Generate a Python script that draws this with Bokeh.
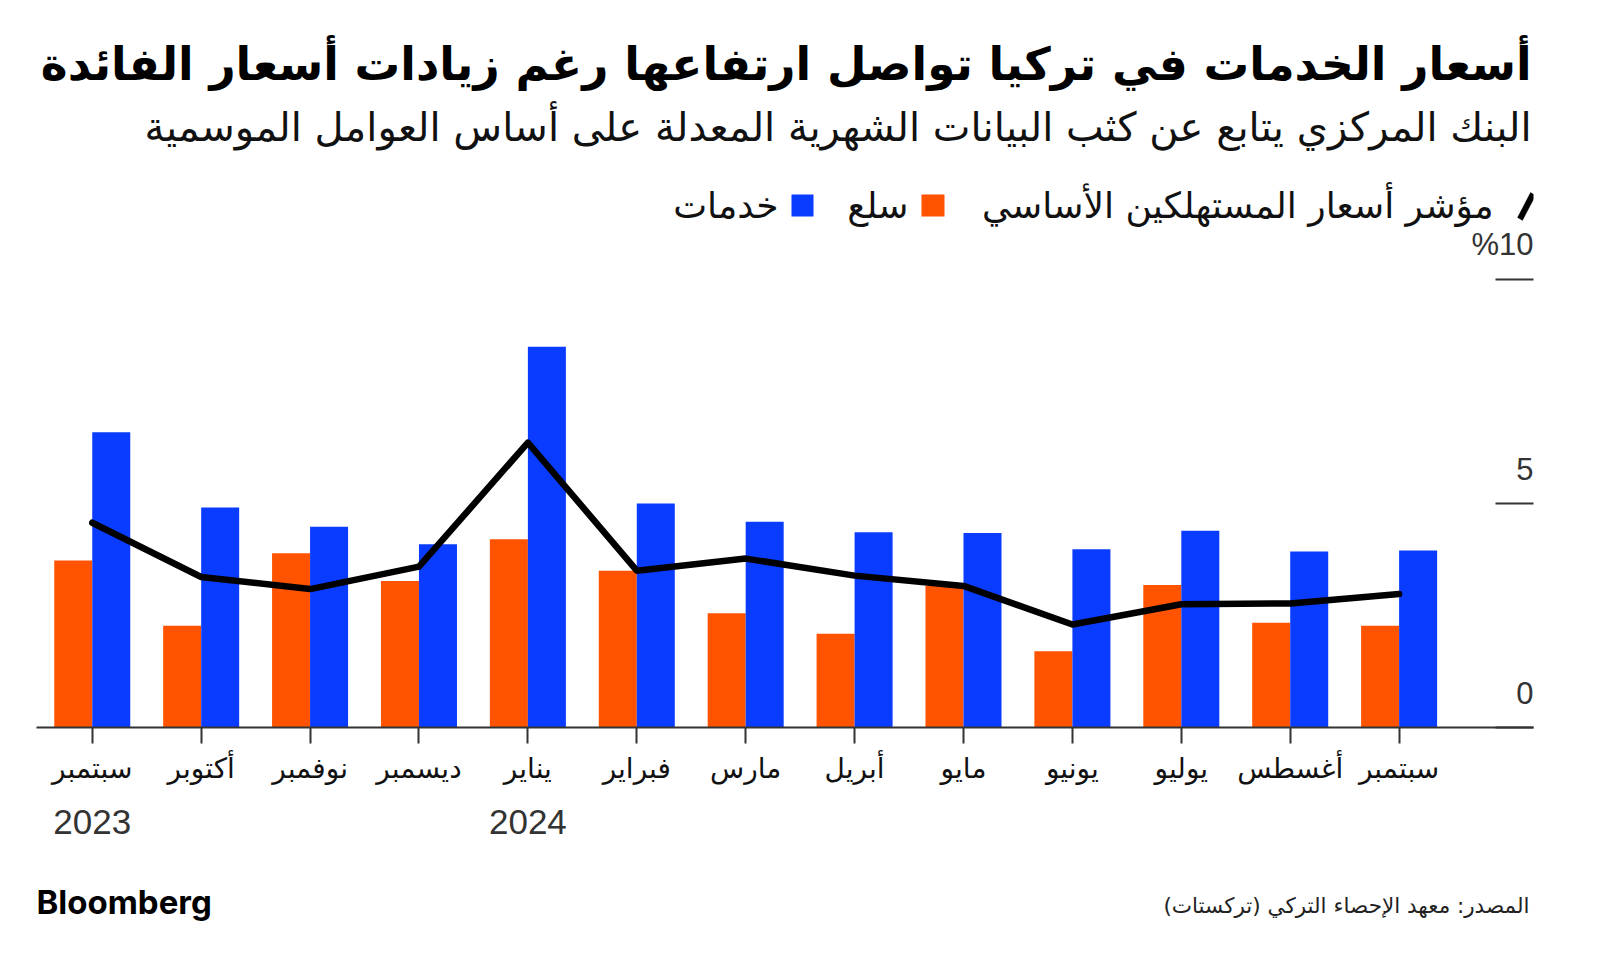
from bokeh.plotting import figure
from bokeh.layouts import column
from bokeh.models import Range1d, FixedTicker, Label, BoxAnnotation, PolyAnnotation, ColumnDataSource
from bokeh.transform import dodge
from bokeh.embed import file_html
from bokeh.resources import INLINE

# ---- data ----
months = ["سبتمبر", "أكتوبر", "نوفمبر", "ديسمبر", "يناير", "فبراير", "مارس",
          "أبريل", "مايو", "يونيو", "يوليو", "أغسطس", "سبتمبر"]
year_pos = [0, 4]
year_labels = ["2023", "2024"]
goods = [3.73, 2.27, 3.89, 3.27, 4.20, 3.50, 2.55, 2.09, 3.16, 1.70, 3.18, 2.34, 2.27]
services = [6.59, 4.91, 4.48, 4.09, 8.50, 5.00, 4.59, 4.36, 4.34, 3.98, 4.39, 3.93, 3.95]
core = [4.57, 3.36, 3.09, 3.59, 6.36, 3.50, 3.77, 3.39, 3.16, 2.30, 2.75, 2.77, 2.98]
y_ticks = [0, 5, 10]
y_tick_labels = ["0", "5", "%10"]

title_text = "أسعار الخدمات في تركيا تواصل ارتفاعها رغم زيادات أسعار الفائدة"
subtitle_text = "البنك المركزي يتابع عن كثب البيانات الشهرية المعدلة على أساس العوامل الموسمية"
legend_core = "مؤشر أسعار المستهلكين الأساسي"
legend_goods = "سلع"
legend_services = "خدمات"
source_text = "المصدر: معهد الإحصاء التركي (تركستات)"

ORANGE = "#FF5300"
BLUE = "#0A3CFF"
AR_FONT = "DejaVu Sans"
LAT_FONT = "Liberation Sans"
W = 1600
FL, FR = 36, 1533           # frame left / right (px) shared by all rows
X0, X1 = -0.512, 13.234     # data range across frame


def sx(px):
    return px - FL


# ---------------- top: title / subtitle ----------------
TOP_H = 172
pt = figure(width=W, height=TOP_H, output_backend="svg", toolbar_location=None,
            x_range=Range1d(FL, FR), y_range=Range1d(TOP_H, 0),
            x_axis_type=None, y_axis_type=None,
            min_border_left=FL, min_border_right=W - FR, min_border_top=0, min_border_bottom=0)
pt.outline_line_color = None
pt.add_layout(Label(x=1531, y=64, text=title_text, text_align="right", text_baseline="middle",
                    text_font=AR_FONT, text_font_style="bold", text_font_size="45.5px",
                    text_color="black"))
pt.add_layout(Label(x=1531, y=126, text=subtitle_text, text_align="right", text_baseline="middle",
                    text_font=AR_FONT, text_font_size="40px", text_color="#111111"))

# ---------------- main chart ----------------
x = list(range(len(months)))
src = ColumnDataSource(dict(x=x, goods=goods, services=services, core=core))

MAIN_BOTTOM = 795
MAIN_H = MAIN_BOTTOM - TOP_H
FRAME_H = 727 - TOP_H       # frame bottom at canvas 727
PX_PER_UNIT = 44.8
Y_TOP = FRAME_H / PX_PER_UNIT

p = figure(width=W, height=MAIN_H, output_backend="svg", toolbar_location=None,
           x_range=Range1d(X0, X1), y_range=Range1d(0, Y_TOP),
           y_axis_location="right",
           min_border_left=FL, min_border_right=W - FR, min_border_top=0,
           min_border_bottom=MAIN_H - FRAME_H)
p.outline_line_color = None
p.xgrid.visible = False
p.ygrid.visible = False

p.vbar(x=dodge("x", -0.1745, range=p.x_range), top="goods", width=0.349, bottom=0,
       source=src, fill_color=ORANGE, line_color=None)
p.vbar(x=dodge("x", 0.1745, range=p.x_range), top="services", width=0.349, bottom=0,
       source=src, fill_color=BLUE, line_color=None)
p.line(x="x", y="core", source=src, line_color="black", line_width=6.5,
       line_cap="round", line_join="round")

xa = p.xaxis[0]
xa.ticker = FixedTicker(ticks=x)
xa.major_label_overrides = {i: m for i, m in enumerate(months)}
xa.major_tick_out = 16
xa.major_tick_in = 0
xa.minor_tick_line_color = None
xa.axis_line_color = "#333333"
xa.axis_line_width = 2
xa.major_tick_line_color = "#333333"
xa.major_tick_line_width = 2
xa.major_label_text_font = AR_FONT
xa.major_label_text_font_size = "28px"
xa.major_label_text_color = "#111111"
xa.major_label_standoff = 8

ya = p.yaxis[0]
ya.ticker = FixedTicker(ticks=y_ticks)
ya.major_tick_in = 38
ya.major_tick_out = 0
ya.minor_tick_line_color = None
ya.axis_line_color = None
ya.major_tick_line_color = "#333333"
ya.major_tick_line_width = 2
ya.major_label_text_color = None
ya.major_label_text_font_size = "1px"

for v, t in zip(y_ticks, y_tick_labels):
    p.add_layout(Label(x=X1, y=v, text=t, text_align="right", text_baseline="alphabetic",
                       y_offset=35, text_font=LAT_FONT, text_font_size="31px",
                       text_color="#333333"))


def sy(py):
    return 727 - py


p.add_layout(PolyAnnotation(xs=[sx(1517), sx(1522), sx(1535), sx(1530)],
                            ys=[sy(217), sy(220), sy(195), sy(192)],
                            xs_units="screen", ys_units="screen",
                            fill_color="black", fill_alpha=1, line_color="black", line_width=1))
p.add_layout(Label(x=sx(1493), y=sy(205), x_units="screen", y_units="screen", text=legend_core,
                   text_align="right", text_baseline="middle", text_font=AR_FONT,
                   text_font_size="36px", text_color="#111111"))
p.add_layout(BoxAnnotation(left=sx(921), right=sx(944), top=sy(194), bottom=sy(216),
                           left_units="screen", right_units="screen",
                           top_units="screen", bottom_units="screen",
                           fill_color=ORANGE, fill_alpha=1, line_color=None))
p.add_layout(Label(x=sx(908), y=sy(205), x_units="screen", y_units="screen", text=legend_goods,
                   text_align="right", text_baseline="middle", text_font=AR_FONT,
                   text_font_size="36px", text_color="#111111"))
p.add_layout(BoxAnnotation(left=sx(791), right=sx(813), top=sy(194), bottom=sy(216),
                           left_units="screen", right_units="screen",
                           top_units="screen", bottom_units="screen",
                           fill_color=BLUE, fill_alpha=1, line_color=None))
p.add_layout(Label(x=sx(778), y=sy(205), x_units="screen", y_units="screen", text=legend_services,
                   text_align="right", text_baseline="middle", text_font=AR_FONT,
                   text_font_size="36px", text_color="#111111"))

# ---------------- bottom: years + footer ----------------
BOT_H = 955 - MAIN_BOTTOM
pb = figure(width=W, height=BOT_H, output_backend="svg", toolbar_location=None,
            x_range=p.x_range, y_range=Range1d(955, MAIN_BOTTOM),
            x_axis_type=None, y_axis_type=None,
            min_border_left=FL, min_border_right=W - FR, min_border_top=0, min_border_bottom=0)
pb.outline_line_color = None
for xp, t in zip(year_pos, year_labels):
    pb.add_layout(Label(x=xp, y=821, text=t, text_align="center", text_baseline="middle",
                        text_font=LAT_FONT, text_font_size="35px", text_color="#333333"))
pb.add_layout(Label(x=sx(1529), y=905, x_units="screen", text=source_text,
                    text_align="right", text_baseline="middle", text_font=AR_FONT,
                    text_font_size="21.5px", text_color="#222222"))
pb.add_layout(Label(x=sx(36), y=901, x_units="screen", text="Bloomberg",
                    text_align="left", text_baseline="middle", text_font="Inter",
                    text_font_style="bold", text_font_size="33px", text_color="black"))

layout = column(pt, p, pb, spacing=0)
open("out.html", "w").write(file_html(layout, INLINE))
